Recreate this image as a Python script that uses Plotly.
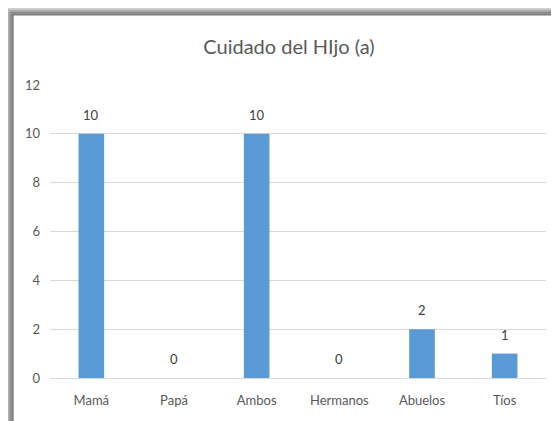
"""
Cuidado del hijo (a) - gráfico de barras estilo Excel
"""
import plotly.graph_objects as go

# --- Datos ---
categorias = ["Mamá", "Papá", "Ambos", "Hermanos", "Abuelos", "Tíos"]
valores = [10, 0, 10, 0, 2, 1]
ticks_y = [0, 2, 4, 6, 8, 10, 12]

TITULO = "Cuidado del HIjo (a)"
AZUL = "#5B9BD5"
GRIS_TEXTO = "#595959"
FUENTE = "Lato, Calibri, sans-serif"

# la página deja 8 px de margen en el body: se compensa aquí
OFF = 8
W, H = 559 - OFF, 421 - OFF
# zona de trazado en píxeles (coordenadas de la captura)
X0, X1 = 50 - OFF, 546 - OFF
Y0, Y1 = 85 - OFF, 378 - OFF


def px_x(p):
    return (p - OFF - X0) / (X1 - X0)


def px_y(p):
    return (Y1 - (p - OFF)) / (Y1 - Y0)


fig = go.Figure()
fig.add_trace(go.Bar(
    x=categorias, y=valores,
    marker=dict(color=AZUL, line=dict(width=0)),
    width=0.31,
    hoverinfo="x+y",
))

# etiquetas de datos por encima de cada barra
for c, v in zip(categorias, valores):
    fig.add_annotation(x=c, y=v, text=str(v), showarrow=False,
                       yanchor="middle", yshift=19,
                       font=dict(size=13, color="#404040", family=FUENTE))

# marco con sombra (captura de Excel)
shapes = []
for i in range(12):
    op = 0.8 * (1 - i / 12) ** 1.5
    col = f"rgba(80,80,80,{op:.3f})"
    shapes.append(dict(type="line", xref="paper", yref="paper",
                       x0=px_x(13 - i * 0.9), x1=px_x(13 - i * 0.9),
                       y0=px_y(15 - i * 0.9), y1=px_y(430),
                       line=dict(color=col, width=1.2), layer="below"))
    shapes.append(dict(type="line", xref="paper", yref="paper",
                       x0=px_x(13 - i * 0.9), x1=px_x(570),
                       y0=px_y(15 - i * 0.9), y1=px_y(15 - i * 0.9),
                       line=dict(color=col, width=1.2), layer="below"))

fig.update_layout(
    width=W, height=H,
    margin=dict(l=X0, r=W - X1, t=Y0, b=H - Y1, pad=0),
    paper_bgcolor="white", plot_bgcolor="white",
    showlegend=False,
    title=dict(text=TITULO, x=(289 - OFF) / W, xref="container", xanchor="center",
               y=1 - (47 - OFF) / H, yref="container", yanchor="middle",
               font=dict(size=20, color=GRIS_TEXTO, family=FUENTE)),
    font=dict(family=FUENTE, color=GRIS_TEXTO, size=13),
    shapes=shapes,
)
fig.update_xaxes(showgrid=False, showline=True, linecolor="#D9D9D9", linewidth=1,
                 ticks="", ticklabelstandoff=10,
                 tickfont=dict(size=13, color=GRIS_TEXTO, family=FUENTE))
fig.update_yaxes(range=[0, 12], tickvals=ticks_y, showgrid=True,
                 gridcolor="#D9D9D9", gridwidth=1, zeroline=False,
                 showline=False, ticks="", ticklabelstandoff=9,
                 tickfont=dict(size=13, color=GRIS_TEXTO, family=FUENTE))

fig.write_html("out.html")
